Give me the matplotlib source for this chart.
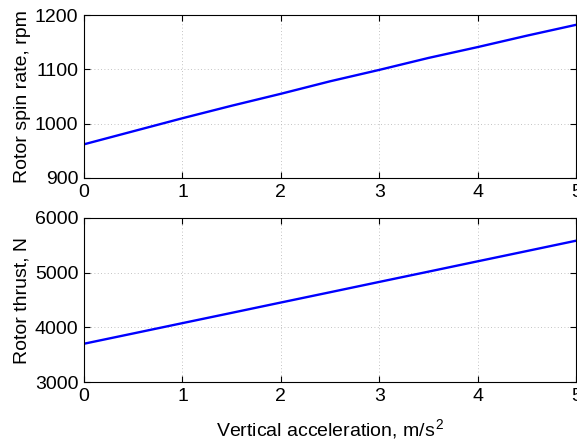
import matplotlib
matplotlib.use('Agg')
import matplotlib.pyplot as plt

accel = [0, 0.5, 1, 1.5, 2, 2.5, 3, 3.5, 4, 4.5, 5]
spin_rate = [962, 986, 1010, 1033, 1055, 1078, 1099, 1121, 1141, 1162, 1182]
thrust = [3700, 3888, 4077, 4265, 4454, 4642, 4831, 5019, 5208, 5396, 5585]

plt.rcParams['font.family'] = ['Liberation Sans', 'DejaVu Sans']
plt.rcParams['mathtext.fontset'] = 'custom'
plt.rcParams['mathtext.rm'] = 'Liberation Sans'
plt.rcParams['mathtext.it'] = 'Liberation Sans'

fig = plt.figure(figsize=(5.77, 4.48), dpi=100)
ax1 = fig.add_axes([0.1456, 0.6027, 0.853, 0.3638])
ax2 = fig.add_axes([0.1456, 0.1473, 0.853, 0.3661])

for ax, y, lim, ticks, label in [
    (ax1, spin_rate, (900, 1200), [900, 1000, 1100, 1200], 'Rotor spin rate, rpm'),
    (ax2, thrust, (3000, 6000), [3000, 4000, 5000, 6000], 'Rotor thrust, N'),
]:
    ax.plot(accel, y, color='#0000ff', linewidth=1.7)
    ax.set_xlim(0, 5)
    ax.set_ylim(*lim)
    ax.set_yticks(ticks)
    ax.set_xticks(range(6))
    ax.grid(True, linestyle=(0, (1, 3)), color='#b0b0b0', linewidth=0.6)
    ax.tick_params(direction='in', top=True, right=True, length=4, labelsize=14, pad=4)
    ax.set_ylabel(label, fontsize=14)
    ax.yaxis.set_label_coords(-0.108, 0.5)
    for s in ax.spines.values():
        s.set_linewidth(0.8)

ax2.set_xlabel('Vertical acceleration, m/s$^{\\,2}$', fontsize=14, labelpad=9)

fig.savefig('out.png', dpi=100)
